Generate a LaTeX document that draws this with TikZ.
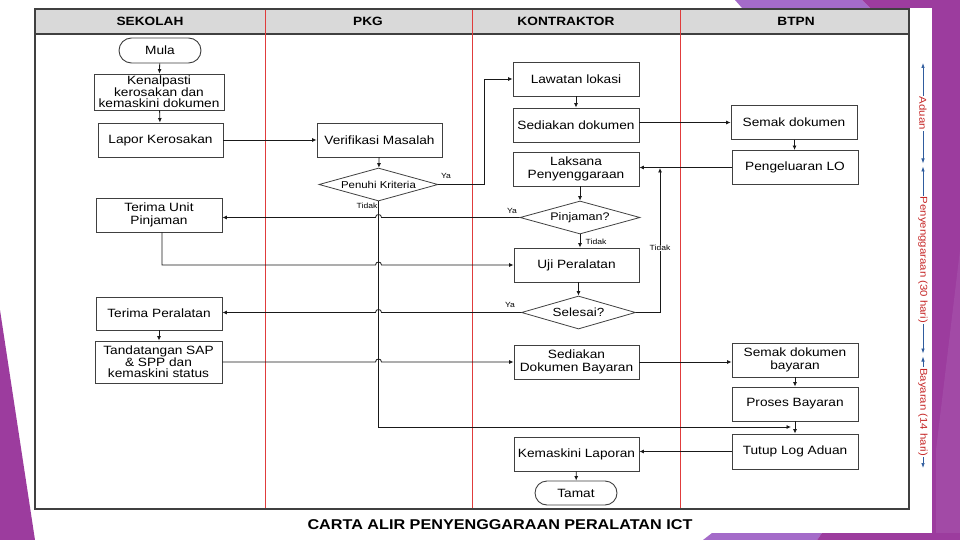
\documentclass[tikz,border=0pt]{standalone}
\usepackage{fontspec}
\setmainfont{Liberation Sans}[FakeStretch=1.14]
\usetikzlibrary{arrows.meta,shapes.geometric,shapes.misc}
\definecolor{purA}{HTML}{9C3C9E}
\definecolor{purB}{HTML}{A46BC9}
\definecolor{purC}{HTML}{A24AA6}
\definecolor{hdr}{HTML}{D9D9D9}
\definecolor{lane}{HTML}{E03C3C}
\definecolor{frm}{HTML}{404040}
\definecolor{dimc}{HTML}{2F5C9E}
\definecolor{dimt}{HTML}{C62828}
\begin{document}
\begin{tikzpicture}[x=1pt,y=-1pt,
  box/.style={draw=frm, line width=0.9pt, minimum width=126pt, minimum height=34pt, inner sep=1pt, align=center, font=\fontsize{12}{13}\selectfont},
  term/.style={rounded rectangle, draw=frm, line width=0.9pt, minimum width=84pt, minimum height=25pt, inner sep=1pt, font=\fontsize{12}{13}\selectfont},
  dec/.style={diamond, draw=frm, line width=0.8pt, aspect=3.6, inner sep=0pt},
  conn/.style={draw=black!90, line width=0.8pt},
  arr/.style={conn, -{Latex[length=4.5pt,width=4pt]}},
  lbl/.style={font=\fontsize{7.5}{8}\selectfont, inner sep=0.5pt},
  hdrtxt/.style={font=\bfseries\fontsize{12}{12}\selectfont},
  lanebar/.style={fill=lane},
  dimline/.style={draw=dimc, line width=0.7pt, {Latex[length=5pt,width=3.5pt]}-{Latex[length=5pt,width=3.5pt]}},
  dimlbl/.style={rotate=-90, fill=white, text=dimt, inner sep=1pt, font=\fontsize{10}{10}\selectfont}]
\useasboundingbox (0,0) rectangle (960,540);
\fill[white] (0,0) rectangle (960,540);
% slide decorations
\fill[purA] (932,0) rectangle (960,540);
\fill[purC] (960,250) -- (936,450) -- (936,540) -- (960,540) -- cycle;
\fill[purB] (735,0) -- (742,8) -- (870,8) -- (862,0) -- cycle;
\fill[purA] (862,0) -- (870,8) -- (960,8) -- (960,0) -- cycle;
\fill[purB] (703,540) -- (712,533) -- (822,533) -- (817,540) -- cycle;
\fill[purA] (817,540) -- (822,533) -- (960,533) -- (960,540) -- cycle;
\fill[purA] (0,310) -- (35,540) -- (0,540) -- cycle;
\fill[white] (910,8) rectangle (932,533);
% frame
\fill[hdr] (35,9) rectangle (909,34);
\draw[frm, line width=1.1pt] (35,34) -- (909,34);
\fill[lanebar] (264.6,9) rectangle (265.9,509);
\fill[lanebar] (471.6,9) rectangle (472.9,509);
\fill[lanebar] (679.6,9) rectangle (680.9,509);
\draw[frm, line width=1.1pt] (35,9) rectangle (909,509);
\node[hdrtxt] (h1) at (150,21.5) {SEKOLAH};
\node[hdrtxt] (h2) at (368,21.5) {PKG};
\node[hdrtxt] (h3) at (566,21.5) {KONTRAKTOR};
\node[hdrtxt] (h4) at (796,21.5) {BTPN};
% nodes
\node[term] (mula) at (160,50.5) {Mula};
\node[box, minimum width=130pt, minimum height=36pt, font=\fontsize{12}{11}\selectfont] (ken) at (159,92) {Kenalpasti\\kerosakan dan\\kemaskini dokumen};
\node[box, minimum width=125pt] (lapor) at (160.5,140) {Lapor Kerosakan};
\node[box, minimum width=125pt] (verif) at (379.5,140) {Verifikasi Masalah};
\node[dec, minimum width=119pt, minimum height=33pt, font=\fontsize{10}{11}\selectfont] (penuhi) at (378.5,184.5) {Penuhi Kriteria};
\node[box] (lawatan) at (576,79) {Lawatan lokasi};
\node[box] (sedi) at (576,125) {Sediakan dokumen};
\node[box] (laksana) at (576,169) {Laksana\\Penyenggaraan};
\node[dec, minimum width=120pt, minimum height=33pt, font=\fontsize{11}{12}\selectfont] (pinj) at (580,217.5) {Pinjaman?};
\node[box, minimum width=125pt] (uji) at (576.5,265) {Uji Peralatan};
\node[dec, minimum width=114pt, minimum height=33pt, font=\fontsize{11.8}{12}\selectfont] (sel) at (578.5,312.5) {Selesai?};
\node[box] (semak) at (794,122.5) {Semak dokumen};
\node[box] (peng) at (795,167.5) {Pengeluaran LO};
\node[box] (terimaunit) at (159,215) {Terima Unit\\Pinjaman};
\node[box, minimum height=33pt] (terimaper) at (159,313.5) {Terima Peralatan};
\node[box, minimum width=127pt, minimum height=42pt, font=\fontsize{12}{11}\selectfont] (tanda) at (158.5,362) {Tandatangan SAP\\\& SPP dan\\kemaskini status};
\node[box, minimum width=125pt] (sdb) at (576.5,362) {Sediakan\\Dokumen Bayaran};
\node[box] (semakbayar) at (795,360) {Semak dokumen\\bayaran};
\node[box] (proses) at (795,404) {Proses Bayaran};
\node[box, minimum height=35pt] (tutup) at (795,451.5) {Tutup Log Aduan};
\node[box, minimum width=125pt] (kemas) at (576.5,454) {Kemaskini Laporan};
\node[term, minimum height=24pt] (tamat) at (576,493) {Tamat};
% connectors
\draw[arr] (mula) -- (ken);
\draw[arr] (ken) -- (lapor);
\draw[arr] (lapor) -- (verif);
\draw[arr] (verif) -- (penuhi);
\coordinate (yaturn) at (484,79);
\draw[arr] (penuhi.east) -| (yaturn) -- (lawatan.west);
\node[lbl] (ya1) at (446,176) {Ya};
\draw[arr] (lawatan) -- (sedi);
\draw[arr] (sedi.east |- semak.west) -- (semak.west);
\draw[arr] (semak) -- (peng);
\draw[arr] (peng.west) -- (peng.west -| laksana.east);
\draw[arr] (pinj.north |- laksana.south) -- (pinj.north);
\draw[arr] (pinj.west) -- (381.5,217.5) .. controls (381.5,213.5) and (375.5,213.5) .. (375.5,217.5) -- (terimaunit.east |- pinj.west);
\node[lbl] (ya2) at (512,211) {Ya};
\draw[arr] (pinj.south) -- (pinj.south |- uji.north);
\node[lbl] (td2) at (596,242) {Tidak};
\draw[arr] ([xshift=3pt]terimaunit.south) -- ([xshift=3pt]terimaunit.south |- uji.west) -- (375.5,265) .. controls (375.5,261) and (381.5,261) .. (381.5,265) -- (uji.west);
\draw[arr] (uji.south -| sel.north) -- (sel.north);
\draw[arr] (sel.west) -- (381.5,312.5) .. controls (381.5,308.5) and (375.5,308.5) .. (375.5,312.5) -- (terimaper.east |- sel.west);
\node[lbl] (ya3) at (510,305) {Ya};
\coordinate (tdturn) at (660,312.5);
\coordinate (tdend) at (660,168);
\draw[arr] (sel.east) -- (tdturn) -- (tdend);
\node[lbl, fill=white] (td3) at (660,248) {Tidak};
\draw[arr] (terimaper.south) -- (terimaper.south |- tanda.north);
\draw[arr] (tanda.east) -- (375.5,362) .. controls (375.5,358) and (381.5,358) .. (381.5,362) -- (sdb.west);
\draw[arr] (sdb.east) -- (sdb.east -| semakbayar.west);
\draw[arr] (semakbayar) -- (proses);
\draw[arr] (proses) -- (tutup);
\coordinate (tdcorner) at (378.5,427);
\coordinate (tdjoin) at (791,427);
\draw[arr] (penuhi.south) -- (tdcorner) -- (tdjoin);
\node[lbl] (td1) at (367,206) {Tidak};
\draw[arr] (tutup.west) -- (tutup.west -| kemas.east);
\draw[arr] (kemas) -- (tamat);
% durations
\coordinate (d1) at (923,63);
\coordinate (d2a) at (923,163.5);
\coordinate (d2b) at (923,166.5);
\coordinate (d3a) at (923,353.5);
\coordinate (d3b) at (923,356.5);
\coordinate (d4) at (923,468);
\draw[dimline] (d1) -- (d2a) node[midway, dimlbl] {Aduan};
\draw[dimline] (d2b) -- (d3a) node[midway, dimlbl] {Penyenggaraan (30 hari)};
\draw[dimline] (d3b) -- (d4) node[midway, dimlbl] {Bayaran (14 hari)};
% caption
\node[font=\bfseries\fontsize{14.2}{15}\selectfont] (cap) at (500,525) {CARTA ALIR PENYENGGARAAN PERALATAN ICT};
\end{tikzpicture}
\end{document}
